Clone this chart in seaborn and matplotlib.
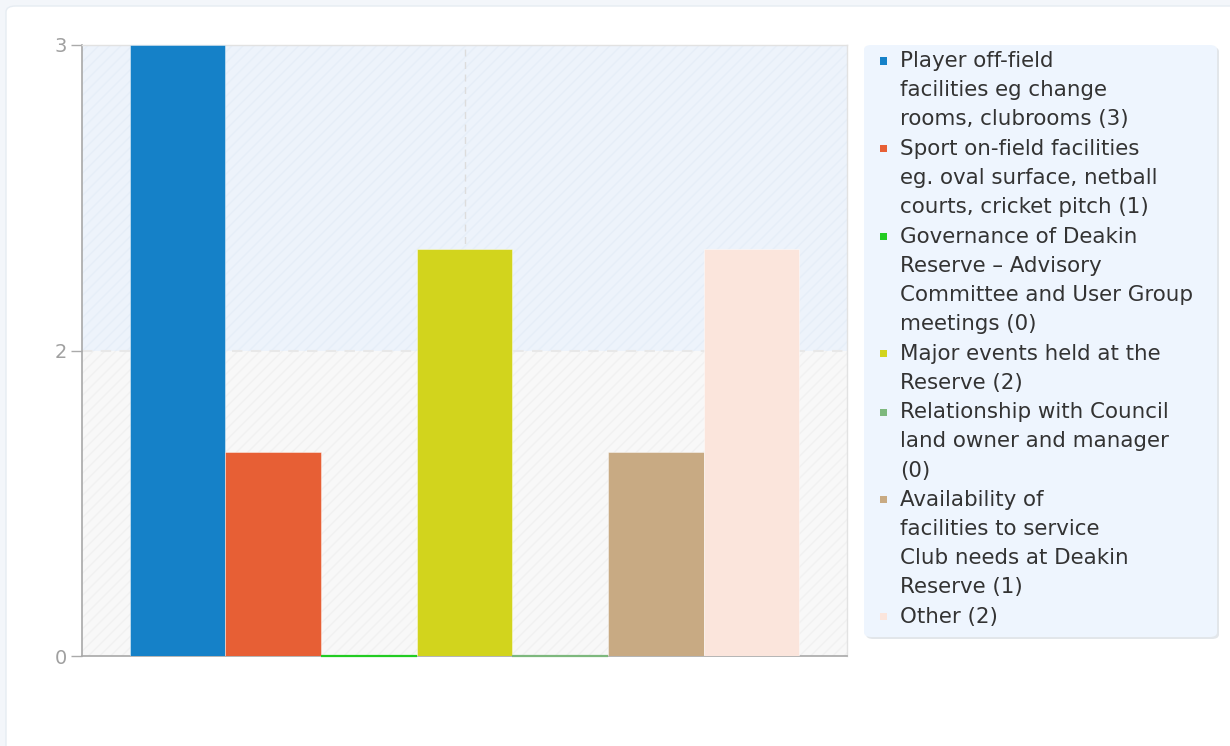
import seaborn as sns
import matplotlib.pyplot as plt
from matplotlib.patches import FancyBboxPatch, Rectangle

# chart data
categories = [
    "Player off-field facilities eg change rooms, clubrooms",
    "Sport on-field facilities eg. oval surface, netball courts, cricket pitch",
    "Governance of Deakin Reserve – Advisory Committee and User Group meetings",
    "Major events held at the Reserve",
    "Relationship with Council land owner and manager",
    "Availability of facilities to service Club needs at Deakin Reserve",
    "Other",
]
values = [3, 1, 0, 2, 0, 1, 2]
colors = ["#1581C8", "#E75F35", "#22CC22", "#D2D41D", "#7DB87D", "#C8AA83", "#FBE5DC"]

# legend text as wrapped in the original
legend_lines = [
    ["Player off-field", "facilities eg change", "rooms, clubrooms (3)"],
    ["Sport on-field facilities", "eg. oval surface, netball", "courts, cricket pitch (1)"],
    ["Governance of Deakin", "Reserve \u2013 Advisory", "Committee and User Group", "meetings (0)"],
    ["Major events held at the", "Reserve (2)"],
    ["Relationship with Council", "land owner and manager", "(0)"],
    ["Availability of", "facilities to service", "Club needs at Deakin", "Reserve (1)"],
    ["Other (2)"],
]

# y axis ticks (labels are rounded in the original chart)
ytick_values = [0, 1.5, 3]
ytick_labels = ["0", "2", "3"]

sns.set_style("white")
plt.rcParams["font.family"] = ["DejaVu Sans"]
plt.rcParams["hatch.linewidth"] = 1.0

W, H = 1230, 746
fig = plt.figure(figsize=(W / 100, H / 100), dpi=100)
fig.patch.set_facecolor("#F3F6FA")


def fx(x):
    return x / W


def fy(y):
    return 1 - y / H


# white card behind everything
card = FancyBboxPatch((fx(6), -0.1), 1.1, fy(6) + 0.1, boxstyle="round,pad=0,rounding_size=0.008",
                      transform=fig.transFigure, facecolor="white", edgecolor="#E6ECF2",
                      linewidth=1, zorder=-5)
fig.patches.append(card)

ax = fig.add_axes([fx(82), fy(656), fx(847) - fx(82), fy(45) - fy(656)])
ax.set_facecolor("none")

sns.barplot(x=list(range(len(values))), y=values, hue=list(range(len(values))),
            palette=colors, width=1, saturation=1, legend=False, ax=ax, zorder=3)
bars = list(ax.patches)

for p in bars:
    v = p.get_height()
    i = int(round(p.get_x() + p.get_width() / 2))
    if v == 0:
        # zero values show up as a thin coloured line on the baseline
        p.set_edgecolor(colors[i])
        p.set_linewidth(1.6)
        p.set_clip_on(False)
    else:
        p.set_edgecolor("#FFFFFF80")
        p.set_linewidth(0.6)

# banded hatched background
ax.axhspan(1.5, 3, facecolor="#EDF3FB", edgecolor="#E6EEF8", hatch="///", linewidth=0, zorder=0)
ax.axhspan(0, 1.5, facecolor="#F8F8F8", edgecolor="#F1F1F1", hatch="///", linewidth=0, zorder=0)
ax.axhline(1.5, color="#E8E8E8", linestyle=(0, (5, 4)), linewidth=1.5, zorder=0.5)
ax.axvline(3, color="#DDDDDD", linestyle=(0, (5, 4)), linewidth=1, zorder=0.5)

ax.set_xlim(-1, 7)
ax.set_ylim(0, 3)
ax.set_xticks([])
ax.set_yticks(ytick_values)
ax.set_yticklabels(ytick_labels)
ax.tick_params(axis="y", length=8, width=1, color="#AAAAAA", labelcolor="#A0A0A0",
               labelsize=14, pad=3, left=True)
ax.set_xlabel("")
ax.set_ylabel("")
for side in ["left", "bottom"]:
    ax.spines[side].set_color("#A8A8A8")
    ax.spines[side].set_linewidth(1.2)
for side in ["top", "right"]:
    ax.spines[side].set_color("#E2E2E2")
    ax.spines[side].set_linewidth(1)
    ax.spines[side].set_visible(True)

# legend box
shadow = FancyBboxPatch((fx(866), fy(639)), fx(1219) - fx(866), fy(47) - fy(639),
                        boxstyle="round,pad=0,rounding_size=0.006", transform=fig.transFigure,
                        facecolor="#E2E6EA", edgecolor="none", zorder=1)
box = FancyBboxPatch((fx(864), fy(637)), fx(1217) - fx(864), fy(45) - fy(637),
                     boxstyle="round,pad=0,rounding_size=0.006", transform=fig.transFigure,
                     facecolor="#EEF5FE", edgecolor="none", zorder=2)
fig.patches.extend([shadow, box])

line_h = 29.25
y = 61
for lines, c in zip(legend_lines, colors):
    fig.patches.append(Rectangle((fx(880), fy(y + 3.5)), 7 / W, 7 / H, transform=fig.transFigure,
                                 facecolor=c, edgecolor="none", zorder=3))
    for ln in lines:
        fig.text(fx(900), fy(y), ln, ha="left", va="center", fontsize=15.4, color="#333333", zorder=4)
        y += line_h

fig.savefig("out.png", dpi=100, facecolor=fig.get_facecolor())
